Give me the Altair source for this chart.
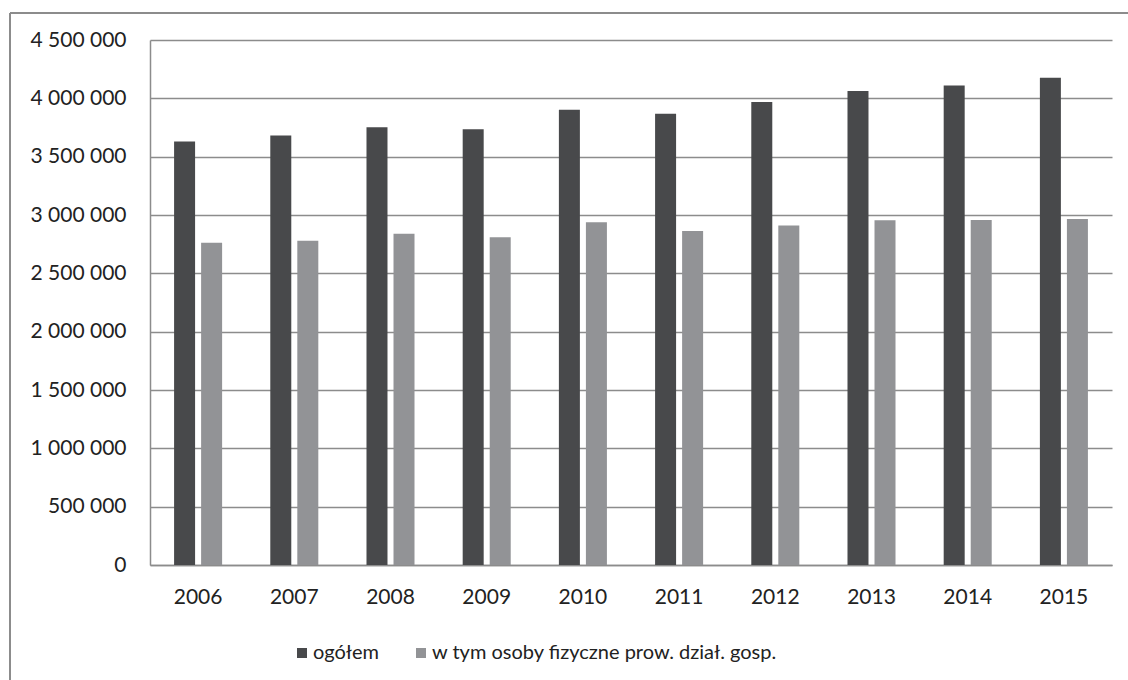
import altair as alt
import pandas as pd

years = ["2006", "2007", "2008", "2009", "2010", "2011", "2012", "2013", "2014", "2015"]
ogolem = [3630000, 3682000, 3752000, 3735000, 3903000, 3868000, 3968000, 4063000, 4111000, 4177000]
osoby_fizyczne = [2762000, 2779000, 2840000, 2810000, 2937000, 2862000, 2910000, 2956000, 2957000, 2965000]
series = ["ogółem", "w tym osoby fizyczne prow. dział. gosp."]
colors = ["#48494b", "#929396"]
y_ticks = [0, 500000, 1000000, 1500000, 2000000, 2500000, 3000000, 3500000, 4000000, 4500000]

rows = []
for i, yr in enumerate(years):
    rows.append({"rok": yr, "seria": series[0], "wartosc": ogolem[i]})
    rows.append({"rok": yr, "seria": series[1], "wartosc": osoby_fizyczne[i]})
df = pd.DataFrame(rows)

FONT = "Lato"
FS = 21
W, H = 962, 525

bars = alt.Chart(df).mark_bar(size=21).encode(
    x=alt.X("rok:N", sort=years, title=None,
            scale=alt.Scale(paddingInner=0.5, paddingOuter=0.25),
            axis=alt.Axis(labelAngle=0, labelFontSize=FS, labelFont=FONT, labelColor="#222",
                          labelPadding=21, ticks=False, domain=True, domainColor="#8c8c8c",
                          domainWidth=1.5, grid=False)),
    xOffset=alt.XOffset("seria:N", sort=series, scale=alt.Scale(paddingInner=0.22)),
    y=alt.Y("wartosc:Q", title=None,
            scale=alt.Scale(domain=[0, 4500000], nice=False),
            axis=alt.Axis(values=y_ticks, labelFontSize=FS, labelFont=FONT, labelColor="#222",
                          labelPadding=24, ticks=False, domain=True, domainColor="#8c8c8c",
                          domainWidth=1.5, grid=True, gridColor="#8c8c8c", gridWidth=1.5,
                          labelExpr="replace(format(datum.value, ','), regexp(',', 'g'), ' ')")),
    color=alt.Color("seria:N", sort=series,
                    scale=alt.Scale(domain=series, range=colors),
                    legend=alt.Legend(title=None, orient="none", direction="horizontal",
                                      columns=2, legendX=142, legendY=603,
                                      symbolType="square", symbolSize=100,
                                      symbolStrokeWidth=0, labelFont=FONT,
                                      labelFontSize=20, labelColor="#222", labelLimit=600,
                                      labelOffset=1, columnPadding=31)),
)

# outer frame: top and left border lines
frame_top = alt.Chart().mark_rule(color="#8c8c8c", strokeWidth=2).encode(
    x=alt.value(-140), x2=alt.value(W + 20), y=alt.value(-27)
)
frame_left = alt.Chart().mark_rule(color="#8c8c8c", strokeWidth=2).encode(
    x=alt.value(-140), y=alt.value(-27), y2=alt.value(H + 120)
)

chart = alt.layer(bars, frame_top, frame_left).properties(
    width=W, height=H,
    autosize=alt.AutoSizeParams(type="none"),
    padding={"left": 150, "top": 40, "right": 16, "bottom": 115},
    background="white",
).configure_view(stroke=None)

chart.save("out.html", embed_options={"renderer": "svg", "actions": False})
